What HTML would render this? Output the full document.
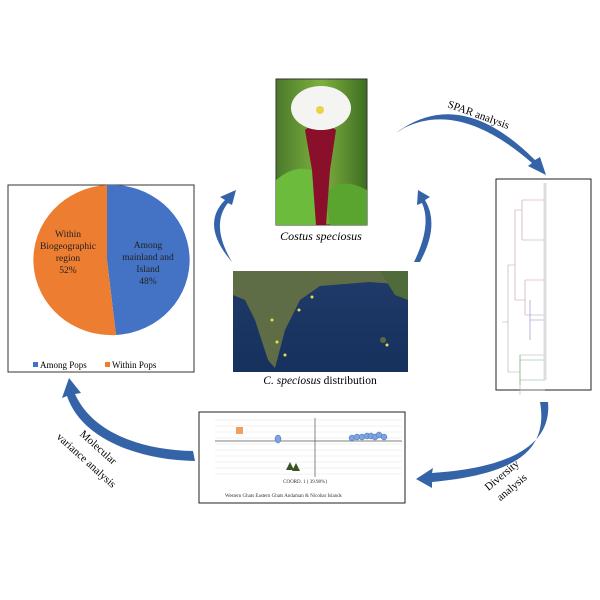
<!DOCTYPE html>
<html><head><meta charset="utf-8"><style>
body{margin:0;background:#fff;}
svg{display:block}
text{font-family:"Liberation Serif",serif;}
</style></head><body>
<svg width="600" height="600" viewBox="0 0 600 600" xmlns="http://www.w3.org/2000/svg">
<defs>
<linearGradient id="bg" x1="0" y1="0" x2="1" y2="0"><stop offset="0" stop-color="#4a7a2a"/><stop offset="0.5" stop-color="#7fb03e"/><stop offset="1" stop-color="#3d6d22"/></linearGradient>
<linearGradient id="sea" x1="0" y1="0" x2="0" y2="1"><stop offset="0" stop-color="#203a6a"/><stop offset="1" stop-color="#17315d"/></linearGradient>
</defs>
<rect x="276" y="79" width="91" height="146" fill="url(#bg)" stroke="#333" stroke-width="1"/>
<path d="M276 180 Q300 160 320 175 L322 225 L276 225Z" fill="#6dbb3c"/>
<path d="M367 190 Q340 175 325 195 L330 225 L367 225Z" fill="#5aa52f"/>
<path d="M305 130 Q320 118 336 130 L330 170 L326 225 L316 225 L312 170Z" fill="#8a0f2a"/>
<ellipse cx="321" cy="108" rx="30" ry="22" fill="#f4f4f2"/>
<circle cx="320" cy="110" r="4" fill="#e8d24a"/>
<text x="321" y="240" font-size="12" font-style="italic" text-anchor="middle">Costus speciosus</text>
<rect x="233" y="271" width="175" height="101" fill="url(#sea)"/>
<path d="M233 271 L408 271 L408 285 L370 282 L320 286 L300 300 L285 330 L275 368 L268 360 L255 320 L245 300 L233 295Z" fill="#5e6d45"/>
<path d="M380 271 L408 271 L408 300 L395 295Z" fill="#4f6b3a"/>
<circle cx="383" cy="340" r="3" fill="#5a6a40"/>
<g fill="#e8e04a"><circle cx="272" cy="320" r="1.5"/><circle cx="277" cy="342" r="1.5"/><circle cx="285" cy="355" r="1.5"/><circle cx="299" cy="310" r="1.5"/><circle cx="312" cy="297" r="1.5"/><circle cx="387" cy="345" r="1.5"/></g>
<text x="320" y="384" font-size="11.5" text-anchor="middle"><tspan font-style="italic">C. speciosus</tspan> distribution</text>
<rect x="8" y="185" width="186" height="187" fill="#fff" stroke="#333" stroke-width="1"/>
<path d="M107 260 L107 185 A78 75 0 0 1 116 335 Z" fill="#4472c4"/>
<path d="M107 260 L116 335 A78 75 0 0 1 107 185 Z" fill="#ed7d31"/>
<g font-size="9.5" fill="#222" text-anchor="middle">
<text x="68" y="237">Within</text><text x="68" y="249">Biogeographic</text><text x="68" y="261">region</text><text x="68" y="273">52%</text>
<text x="148" y="248">Among</text><text x="148" y="260">mainland and</text><text x="148" y="272">Island</text><text x="148" y="284">48%</text>
</g>
<rect x="33" y="362" width="5" height="5" fill="#4472c4"/><text x="40" y="368" font-size="9">Among Pops</text>
<rect x="105" y="362" width="5" height="5" fill="#ed7d31"/><text x="112" y="368" font-size="9">Within Pops</text>
<rect x="496" y="179" width="95" height="211" fill="#fff" stroke="#222" stroke-width="1"/>
<g stroke-width="0.6" fill="none">
<path d="M502 322 H508 M508 265 V372 M508 265 H515 M508 372 H520 M520 355 V395 M520 355 H545 M520 390 H545" stroke="#aaa"/>
<path d="M515 210 V300 M515 210 H522 M522 200 V240 M522 200 H545 M522 240 H545 M515 300 H525 M525 280 V315 M525 280 H545 M525 315 H545" stroke="#c89aa0"/>
<path d="M530 300 V340 M530 320 H545" stroke="#8888cc"/>
<path d="M520 355 V385 M520 360 H545 M520 380 H545" stroke="#7ab07a"/>
<path d="M545 183 V380" stroke="#ddd" stroke-width="3"/>
</g>
<rect x="199" y="412" width="206" height="91" fill="#fff" stroke="#222" stroke-width="1"/>
<g stroke="#e2e2e2" stroke-width="0.5">
<path d="M215 420 H402 M215 426 H402 M215 432 H402 M215 438 H402 M215 444 H402 M215 450 H402 M215 456 H402 M215 462 H402 M215 468 H402 M215 474 H402"/>
</g>
<path d="M215 441 H402 M315 418 V477" stroke="#555" stroke-width="0.7"/>
<rect x="236" y="427" width="7" height="7" fill="#f0a060"/>
<ellipse cx="278" cy="439" rx="3" ry="4" fill="#7aa3e0" stroke="#4a6fb0" stroke-width="0.5"/>
<g fill="#7aa3e0" stroke="#4a6fb0" stroke-width="0.5">
<circle cx="352" cy="438" r="3"/><circle cx="357" cy="437" r="3"/><circle cx="362" cy="437" r="3"/><circle cx="367" cy="436" r="3"/><circle cx="371" cy="436" r="3"/><circle cx="375" cy="437" r="3"/><circle cx="379" cy="435" r="3"/><circle cx="384" cy="437" r="3"/>
</g>
<path d="M286 470 L290 462 L294 470Z M292 471 L296 463 L300 471Z" fill="#375623"/>
<text x="305" y="483" font-size="5" text-anchor="middle" fill="#333">COORD. 1 ( 39.98%)</text>
<text x="225" y="497" font-size="5" fill="#333">Western Ghats   Eastern Ghats   Andaman &amp; Nicobar Islands</text>
<g fill="#3563a8">
<path d="M396 133 Q460 85 535 160 L540 157 L546 175 L528 166 L532 163 Q460 100 404 128Z"/>
<path d="M232 262 Q200 225 225 200 L220 197 L236 190 L232 205 L228 203 Q210 225 232 262Z"/>
<path d="M420 262 Q440 225 425 200 L430 197 L418 190 L417 205 L422 203 Q432 225 414 262Z"/>
<path d="M195 461 C140 460 82 440 67 396 L62 398 L69 378 L81 393 L75 394 C92 432 140 450 193 451Z"/>
<path d="M548 402 C552 445 510 468 432 473 L433 468 L416 479 L432 488 L432 482 C520 474 548 448 540 402Z"/>
</g>
<text font-size="11" transform="translate(447,107) rotate(20)">SPAR analysis</text>
<g font-size="11" text-anchor="middle">
<text transform="translate(96,450) rotate(42)">Molecular</text>
<text transform="translate(84,463) rotate(42)">variance analysis</text>
<text transform="translate(504,478) rotate(-40)">Diversity</text>
<text transform="translate(514,490) rotate(-40)">analysis</text>
</g>
</svg>
</body></html>
